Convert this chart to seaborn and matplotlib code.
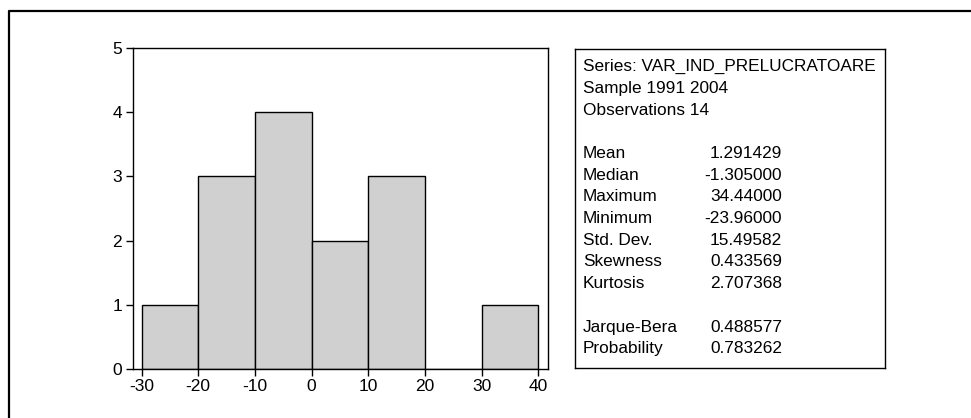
import matplotlib
matplotlib.use("Agg")
import matplotlib.pyplot as plt
from matplotlib.lines import Line2D
import seaborn as sns
import numpy as np

# Data
bin_edges = [-30, -20, -10, 0, 10, 20, 30, 40]
bin_counts = [1, 3, 4, 2, 3, 0, 1]
y_ticks = [0, 1, 2, 3, 4, 5]
x_ticks = [-30, -20, -10, 0, 10, 20, 30, 40]

header_lines = ["Series: VAR_IND_PRELUCRATOARE", "Sample 1991 2004", "Observations 14"]
stat_names = ["Mean", "Median", "Maximum", "Minimum", "Std. Dev.", "Skewness", "Kurtosis"]
stat_values = ["1.291429", "-1.305000", "34.44000", "-23.96000", "15.49582", "0.433569", "2.707368"]
test_names = ["Jarque-Bera", "Probability"]
test_values = ["0.488577", "0.783262"]

sns.set_style("white")
plt.rcParams['font.family'] = ['Liberation Sans', 'DejaVu Sans']
plt.rcParams['text.color'] = 'black'
plt.rcParams['xtick.color'] = 'black'
plt.rcParams['ytick.color'] = 'black'

W, H = 971, 418
fig = plt.figure(figsize=(W / 100, H / 100), dpi=100)

def fx(px):
    return px / W

def fy(py):
    return 1 - py / H

# Histogram axes
ax = fig.add_axes([fx(133), fy(369), fx(548) - fx(133), fy(48) - fy(369)])
centers = [(a + b) / 2 for a, b in zip(bin_edges[:-1], bin_edges[1:])]
sns.histplot(x=centers, weights=bin_counts, bins=bin_edges, ax=ax,
             color="#d0d0d0", edgecolor="black", linewidth=1.0, alpha=1.0)
ax.set_xlim(-31.5, 41.7)
ax.set_ylim(0, 5)
ax.set_xticks(x_ticks)
ax.set_xticklabels([str(v) for v in x_ticks])
ax.set_yticks(y_ticks)
ax.set_yticklabels([str(v) for v in y_ticks])
ax.set_xlabel("")
ax.set_ylabel("")
ax.tick_params(axis="both", direction="out", length=5, width=1, color="black",
               labelsize=12.5, labelcolor="black", bottom=True, left=True)
ax.tick_params(axis="x", pad=2.5)
ax.tick_params(axis="y", pad=3)
for sp in ax.spines.values():
    sp.set_visible(True)
    sp.set_color("black")
    sp.set_linewidth(1.0)

# Stats box
bx = fig.add_axes([fx(575), fy(368), fx(885) - fx(575), fy(49) - fy(368)])
bx.set_xlim(0, 1)
bx.set_ylim(0, 1)
bx.set_xticks([])
bx.set_yticks([])
for sp in bx.spines.values():
    sp.set_visible(True)
    sp.set_color("black")
    sp.set_linewidth(1.0)

box_h = 368 - 49
box_w = 885 - 575

def by(py):
    return 1 - (py - 49) / box_h

label_x = (583 - 575) / box_w
value_x = (782 - 575) / box_w
line_step = 21.7
y0 = 66.7
fs = 12.4
for i, t in enumerate(header_lines):
    bx.text(label_x, by(y0 + i * line_step), t, ha="left", va="center", fontsize=fs, color="black")
for i, (n, v) in enumerate(zip(stat_names, stat_values)):
    yy = by(y0 + (i + 4) * line_step)
    bx.text(label_x, yy, n, ha="left", va="center", fontsize=fs, color="black")
    bx.text(value_x, yy, v, ha="right", va="center", fontsize=fs, color="black")
for i, (n, v) in enumerate(zip(test_names, test_values)):
    yy = by(y0 + (i + 12) * line_step)
    bx.text(label_x, yy, n, ha="left", va="center", fontsize=fs, color="black")
    bx.text(value_x, yy, v, ha="right", va="center", fontsize=fs, color="black")

# Outer frame (left and top edges)
fig.add_artist(Line2D([fx(8.5), fx(8.5), 1.0], [0.0, fy(10.5), fy(10.5)],
                      color="black", linewidth=1.6, transform=fig.transFigure))

fig.savefig("out.png", dpi=100)
